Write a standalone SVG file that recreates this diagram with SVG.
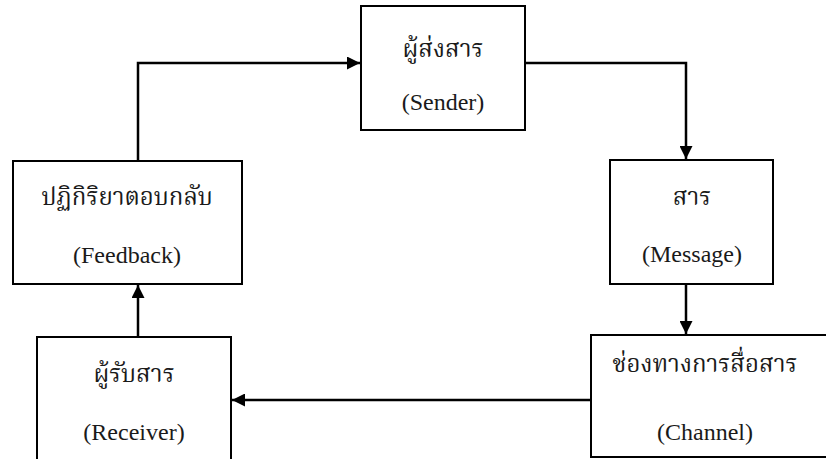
<svg xmlns="http://www.w3.org/2000/svg" width="826" height="459" viewBox="0 0 826 459">
  <style>
    .box { fill: #ffffff; stroke: #000000; stroke-width: 2; }
    .th { font-family: "Liberation Serif", "Noto Serif Thai", "Noto Sans Thai", "Noto Sans", serif; font-size: 24px; fill: #1a1a1a; text-anchor: middle; }
    .en { font-family: "Liberation Serif", "Times New Roman", serif; font-size: 24px; fill: #1a1a1a; text-anchor: middle; }
    .conn { fill: none; stroke: #000000; stroke-width: 2.5; }
  </style>
  <defs>
    <marker id="arrow" viewBox="0 0 10 10" refX="10" refY="5" markerWidth="15" markerHeight="13" markerUnits="userSpaceOnUse" orient="auto">
      <path d="M0,0 L10,5 L0,10 Z" fill="#000000"/>
    </marker>
  </defs>
  <rect width="826" height="459" fill="#ffffff"/>

  <g id="connectors">
    <polyline class="conn" points="138,161 138,63 360,63" marker-end="url(#arrow)"/>
    <polyline class="conn" points="525,63 686,63 686,159" marker-end="url(#arrow)"/>
    <line class="conn" x1="686" y1="284" x2="686" y2="334" marker-end="url(#arrow)"/>
    <line class="conn" x1="591" y1="400" x2="232" y2="400" marker-end="url(#arrow)"/>
    <line class="conn" x1="138" y1="337" x2="138" y2="285" marker-end="url(#arrow)"/>
  </g>

  <g id="sender">
    <rect class="box" x="361" y="6" width="164" height="124"/>
    <text class="th" x="443" y="57">ผู้ส่งสาร</text>
    <text class="en" x="443" y="110">(Sender)</text>
  </g>

  <g id="message">
    <rect class="box" x="610" y="160" width="163" height="124"/>
    <text class="th" x="692" y="205">สาร</text>
    <text class="en" x="692" y="262">(Message)</text>
  </g>

  <g id="channel">
    <rect class="box" x="591" y="335" width="250" height="122"/>
    <text class="th" x="705" y="372">ช่องทางการสื่อสาร</text>
    <text class="en" x="705" y="440">(Channel)</text>
  </g>

  <g id="receiver">
    <rect class="box" x="37" y="337" width="194" height="140"/>
    <text class="th" x="134" y="382">ผู้รับสาร</text>
    <text class="en" x="134" y="440">(Receiver)</text>
  </g>

  <g id="feedback">
    <rect class="box" x="13" y="161" width="229" height="123"/>
    <text class="th" x="127" y="205">ปฏิกิริยาตอบกลับ</text>
    <text class="en" x="127" y="263">(Feedback)</text>
  </g>
</svg>
